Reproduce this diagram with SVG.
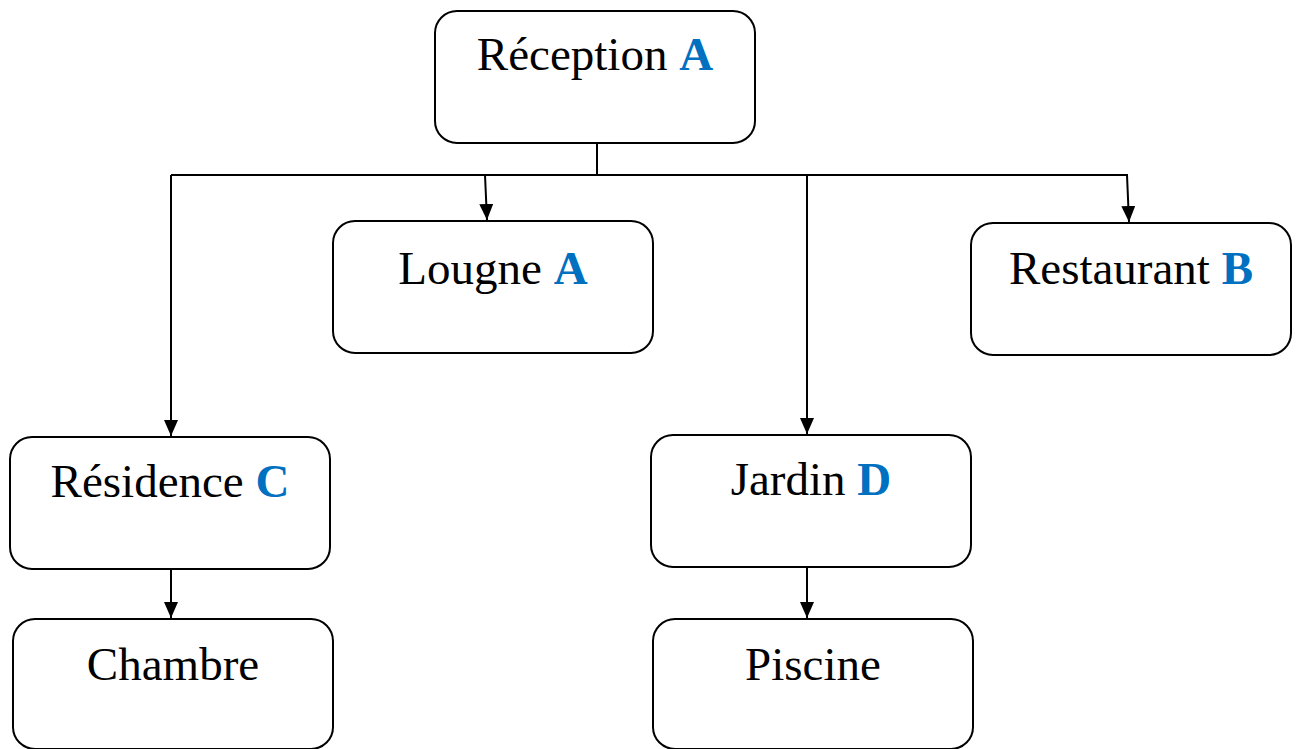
<svg xmlns="http://www.w3.org/2000/svg" width="1300" height="749" viewBox="0 0 1300 749">
<style>
.box{fill:#fff;stroke:#000;stroke-width:2}
.lbl{font-size:47px;fill:#000;text-anchor:middle}
.key{font-weight:bold;fill:#0070C0}
.con{fill:none;stroke:#000;stroke-width:2}
</style>
<defs>
<marker id="ah" markerWidth="16" markerHeight="14" refX="16" refY="7" orient="auto" markerUnits="userSpaceOnUse" viewBox="0 0 16 14">
<path d="M0,0 L16,7 L0,14 Z" fill="#000"/>
</marker>
</defs>
<rect width="1300" height="749" fill="#fff"/>
<g id="connectors">
<path class="con" d="M597,143 V175"/>
<path class="con" d="M171,175 H1128"/>
<path class="con" d="M485,175 L487,220" marker-end="url(#ah)"/>
<path class="con" d="M1127,175 L1129,222" marker-end="url(#ah)"/>
<path class="con" d="M171,175 V436" marker-end="url(#ah)"/>
<path class="con" d="M807,175 V434" marker-end="url(#ah)"/>
<path class="con" d="M171,569 V618" marker-end="url(#ah)"/>
<path class="con" d="M807,567 V618" marker-end="url(#ah)"/>
</g>
<g font-family="Liberation Serif, Times New Roman, serif">
<g id="reception">
<rect class="box" x="435" y="11" width="320" height="132" rx="22"/>
<text class="lbl" x="595" y="70">Réception <tspan class="key">A</tspan></text>
</g>
<g id="lougne">
<rect class="box" x="333" y="221" width="320" height="132" rx="22"/>
<text class="lbl" x="493" y="284">Lougne <tspan class="key">A</tspan></text>
</g>
<g id="restaurant">
<rect class="box" x="971" y="223" width="320" height="132" rx="22"/>
<text class="lbl" x="1131" y="284">Restaurant <tspan class="key">B</tspan></text>
</g>
<g id="residence">
<rect class="box" x="10" y="437" width="320" height="132" rx="22"/>
<text class="lbl" x="170" y="497">Résidence <tspan class="key">C</tspan></text>
</g>
<g id="jardin">
<rect class="box" x="651" y="435" width="320" height="132" rx="22"/>
<text class="lbl" x="811" y="495">Jardin <tspan class="key">D</tspan></text>
</g>
<g id="chambre">
<rect class="box" x="13" y="619" width="320" height="130" rx="22"/>
<text class="lbl" x="173" y="680">Chambre</text>
</g>
<g id="piscine">
<rect class="box" x="653" y="619" width="320" height="130" rx="22"/>
<text class="lbl" x="813" y="680">Piscine</text>
</g>
</g>
</svg>
